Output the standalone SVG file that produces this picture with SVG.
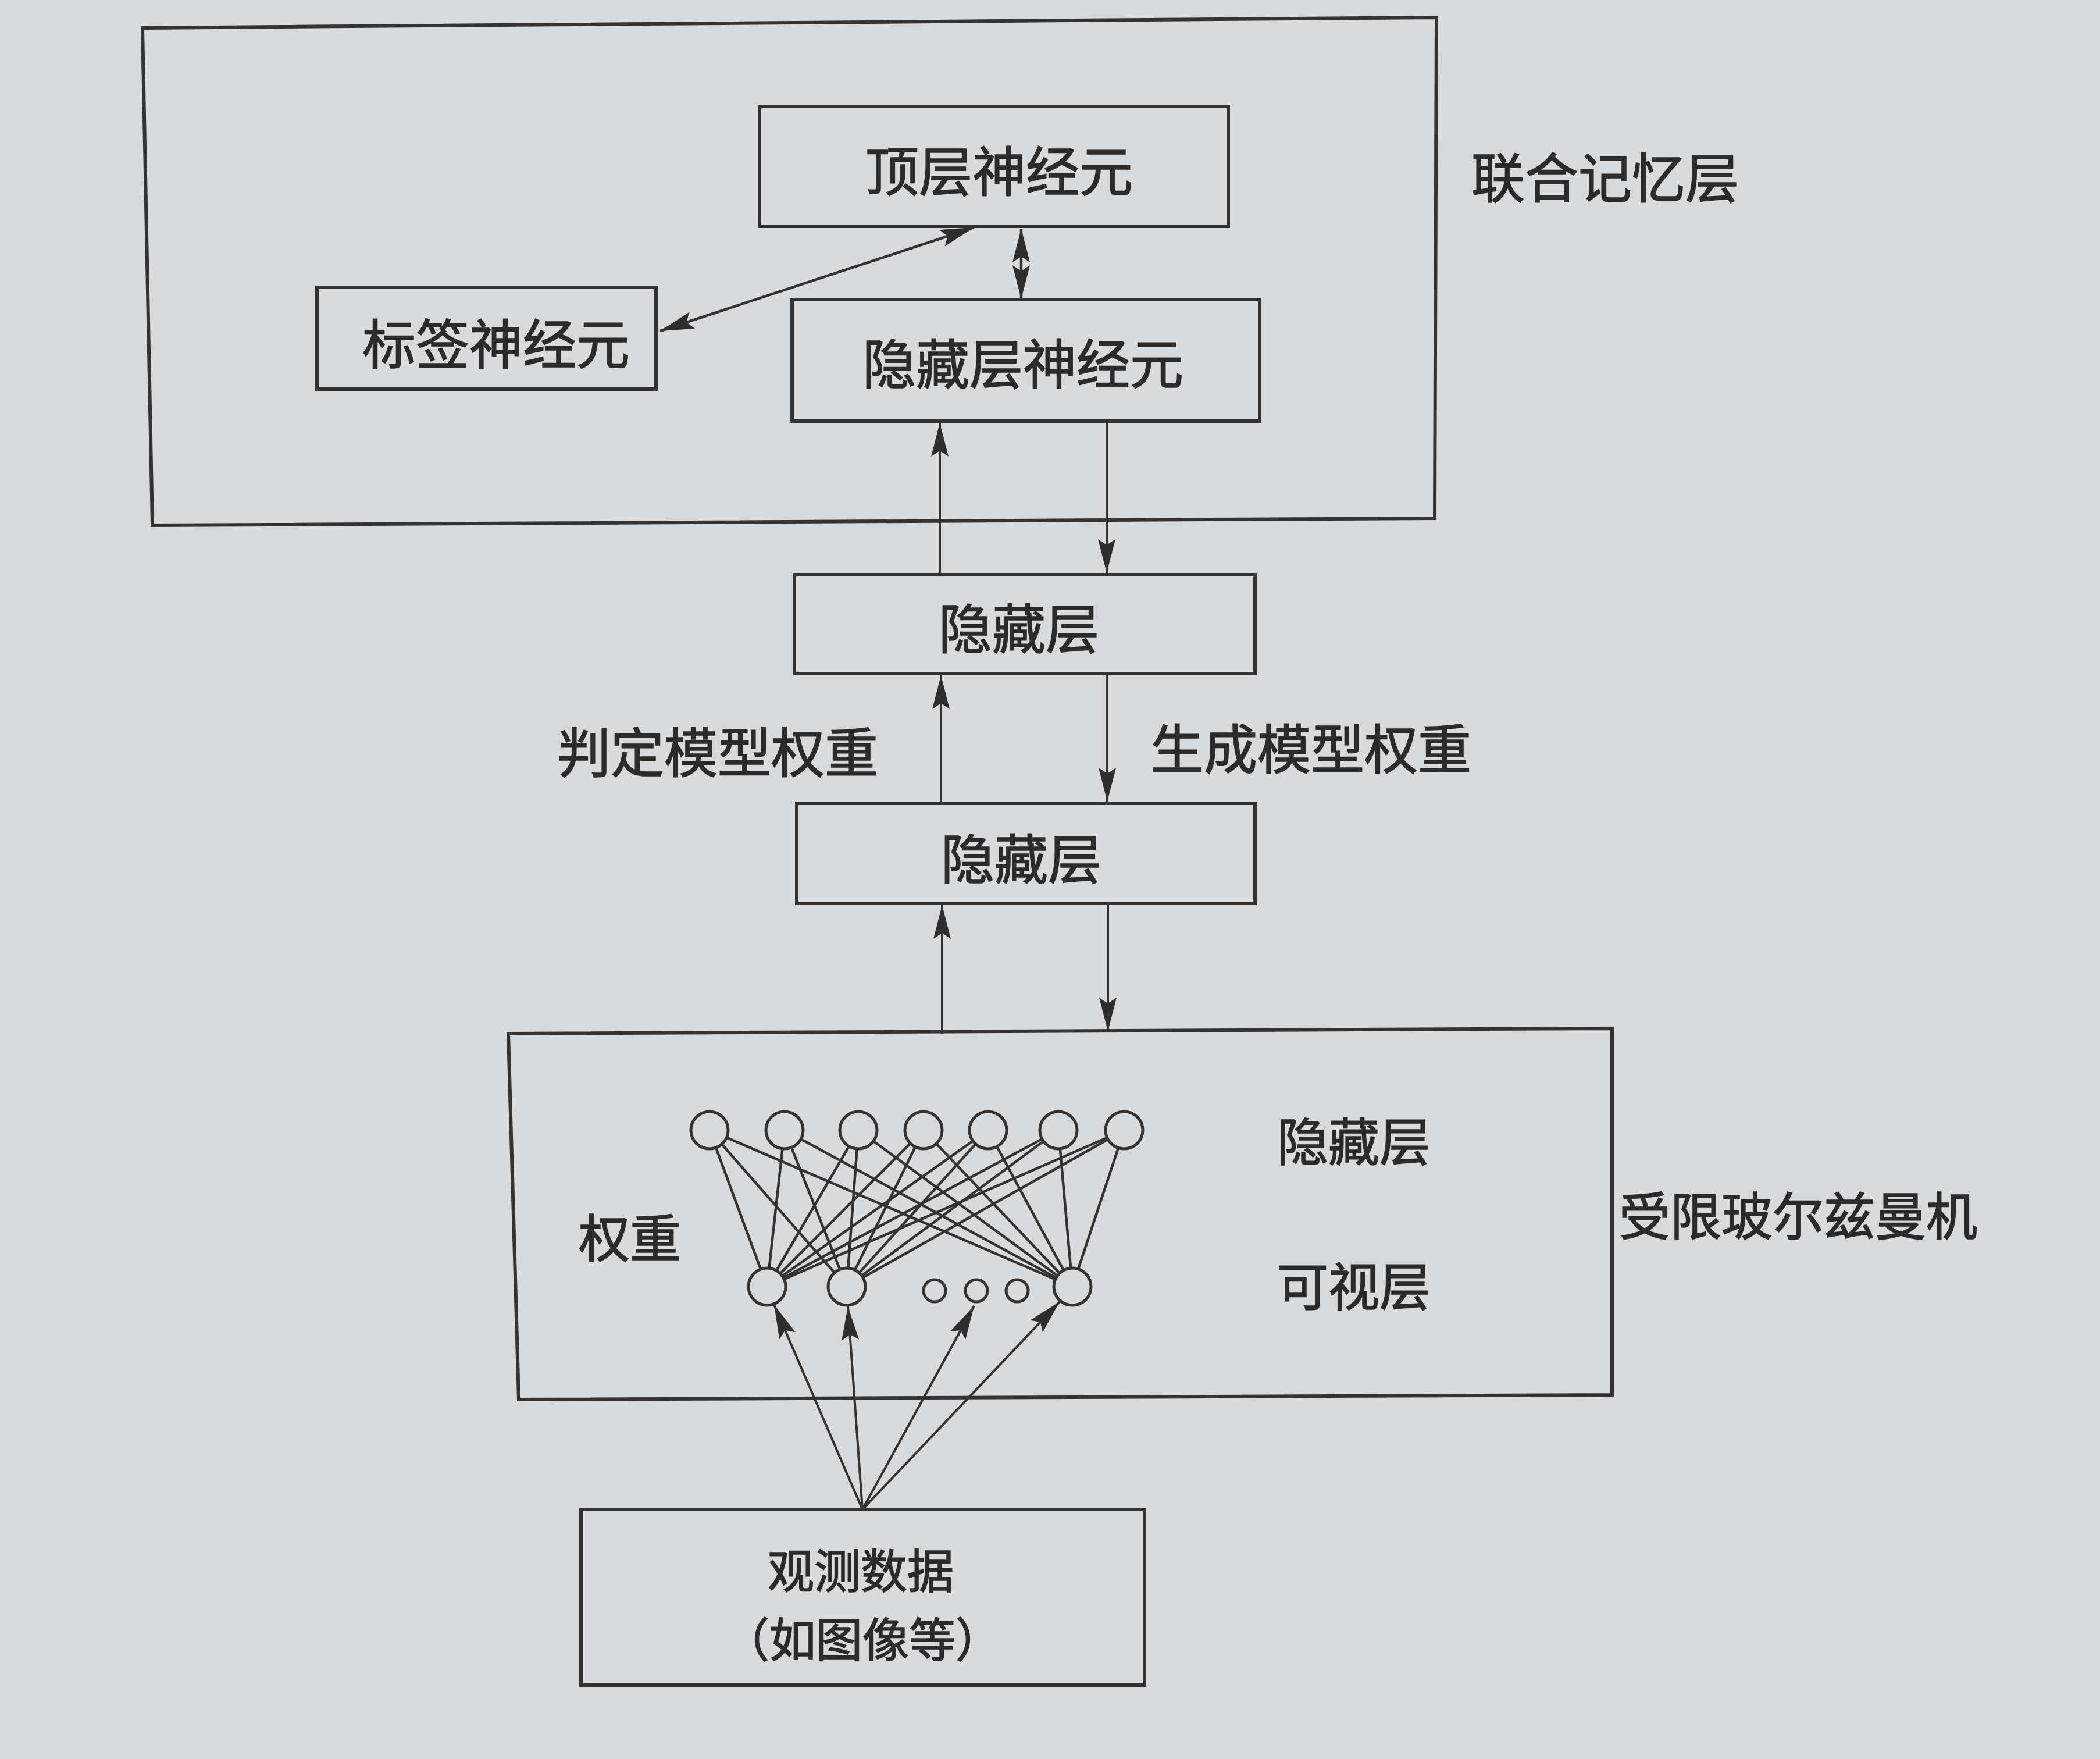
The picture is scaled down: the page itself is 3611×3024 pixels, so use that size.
<svg xmlns="http://www.w3.org/2000/svg" width="3611" height="3024" viewBox="0 0 3611 3024">
<style>
.bx{fill:none;stroke:#333;stroke-width:6}
.ar{fill:none;stroke:#333;stroke-width:4;marker-end:url(#ah)}
.da{fill:none;stroke:#333;stroke-width:4.5;marker-start:url(#ah);marker-end:url(#ah)}
.e{stroke:#333;stroke-width:4.5}
.c{fill:#d9dadc;stroke:#333;stroke-width:5}
.t{font-family:"Noto Sans CJK SC","Noto Sans",sans-serif;font-size:92px;fill:#2b2b2b;stroke:#2b2b2b;stroke-width:1.6;text-anchor:middle}
.ts{font-family:"Noto Sans CJK SC","Noto Sans",sans-serif;font-size:88px;fill:#2b2b2b;stroke:#2b2b2b;stroke-width:1.6;text-anchor:middle}
.to{font-family:"Noto Sans CJK SC","Noto Sans",sans-serif;font-size:80px;fill:#2b2b2b;stroke:#2b2b2b;stroke-width:1.6;text-anchor:middle}
</style>
<defs>
<marker id="ah" markerUnits="userSpaceOnUse" markerWidth="70" markerHeight="40" refX="60" refY="20" orient="auto-start-reverse" viewBox="0 0 70 40">
<path d="M60,20 L2,5 L12,20 L2,35 Z" fill="#2e2e2e"/>
</marker>
</defs>
<rect width="3611" height="3024" fill="#d9dadc"/>

<g id="assoc-memory">
<path class="bx" d="M245,48 L2470,30 L2467,891 L262,903 Z"/>
<text class="t" x="2760" y="340">联合记忆层</text>
</g>
<g id="top-neurons">
<rect class="bx" x="1306" y="183" width="806" height="206"/>
<text class="t" x="1718" y="329">顶层神经元</text>
</g>
<g id="label-neurons">
<rect class="bx" x="545" y="494" width="583" height="175"/>
<text class="t" x="853" y="626">标签神经元</text>
</g>
<g id="hidden-neurons">
<rect class="bx" x="1362" y="515" width="804" height="209"/>
<text class="t" x="1759" y="660">隐藏层神经元</text>
</g>
<g id="hidden-layer-1">
<rect class="bx" x="1366" y="988" width="792" height="170"/>
<text class="t" x="1752" y="1115">隐藏层</text>
</g>
<g id="hidden-layer-2">
<rect class="bx" x="1370" y="1381" width="788" height="172"/>
<text class="t" x="1756" y="1511">隐藏层</text>
</g>
<g id="labels">
<text class="t" x="1234" y="1328">判定模型权重</text>
<text class="t" x="2254" y="1322">生成模型权重</text>
</g>

<g id="rbm">
<path class="bx" d="M874,1777 L2772,1768 L2772,2398 L892,2406 Z"/>
<g id="rbm-weights">
<line class="e" x1="1220" y1="1943" x2="1319" y2="2212"/>
<line class="e" x1="1220" y1="1943" x2="1456" y2="2212"/>
<line class="e" x1="1220" y1="1943" x2="1844" y2="2212"/>
<line class="e" x1="1349" y1="1943" x2="1319" y2="2212"/>
<line class="e" x1="1349" y1="1943" x2="1456" y2="2212"/>
<line class="e" x1="1349" y1="1943" x2="1844" y2="2212"/>
<line class="e" x1="1476" y1="1943" x2="1319" y2="2212"/>
<line class="e" x1="1476" y1="1943" x2="1456" y2="2212"/>
<line class="e" x1="1476" y1="1943" x2="1844" y2="2212"/>
<line class="e" x1="1588" y1="1943" x2="1319" y2="2212"/>
<line class="e" x1="1588" y1="1943" x2="1456" y2="2212"/>
<line class="e" x1="1588" y1="1943" x2="1844" y2="2212"/>
<line class="e" x1="1699" y1="1943" x2="1319" y2="2212"/>
<line class="e" x1="1699" y1="1943" x2="1456" y2="2212"/>
<line class="e" x1="1699" y1="1943" x2="1844" y2="2212"/>
<line class="e" x1="1820" y1="1943" x2="1319" y2="2212"/>
<line class="e" x1="1820" y1="1943" x2="1456" y2="2212"/>
<line class="e" x1="1820" y1="1943" x2="1844" y2="2212"/>
<line class="e" x1="1933" y1="1943" x2="1319" y2="2212"/>
<line class="e" x1="1933" y1="1943" x2="1456" y2="2212"/>
<line class="e" x1="1933" y1="1943" x2="1844" y2="2212"/>
</g>
<g id="rbm-hidden-units">
<circle class="c" cx="1220" cy="1943" r="32"/>
<circle class="c" cx="1349" cy="1943" r="32"/>
<circle class="c" cx="1476" cy="1943" r="32"/>
<circle class="c" cx="1588" cy="1943" r="32"/>
<circle class="c" cx="1699" cy="1943" r="32"/>
<circle class="c" cx="1820" cy="1943" r="32"/>
<circle class="c" cx="1933" cy="1943" r="32"/>
</g>
<g id="rbm-visible-units">
<circle class="c" cx="1319" cy="2212" r="32"/>
<circle class="c" cx="1456" cy="2212" r="32"/>
<circle class="c" cx="1607" cy="2219" r="19"/>
<circle class="c" cx="1679" cy="2219" r="19"/>
<circle class="c" cx="1749" cy="2219" r="19"/>
<circle class="c" cx="1844" cy="2212" r="32"/>
</g>
<text class="ts" x="2328" y="1995">隐藏层</text>
<text class="ts" x="1083" y="2161">权重</text>
<text class="ts" x="2328" y="2244">可视层</text>
<text class="ts" x="3092" y="2123">受限玻尔兹曼机</text>
</g>

<g id="observed-data">
<rect class="bx" x="999" y="2595" width="969" height="302"/>
<text class="to" x="1480" y="2730">观测数据</text>
<text class="to" x="1483" y="2848">（如图像等）</text>
</g>

<g id="connectors">
<line class="da" x1="1135" y1="569" x2="1675" y2="391"/>
<line class="da" x1="1756" y1="393" x2="1756" y2="514"/>
<line class="ar" x1="1616" y1="988" x2="1616" y2="727"/>
<line class="ar" x1="1903" y1="727" x2="1903" y2="985"/>
<line class="ar" x1="1618" y1="1381" x2="1618" y2="1161"/>
<line class="ar" x1="1904" y1="1161" x2="1904" y2="1378"/>
<line class="ar" x1="1620" y1="1777" x2="1620" y2="1556"/>
<line class="ar" x1="1905" y1="1556" x2="1905" y2="1773"/>
<line class="ar" x1="1483" y1="2595" x2="1331" y2="2243"/>
<line class="ar" x1="1483" y1="2595" x2="1458" y2="2246"/>
<line class="ar" x1="1483" y1="2595" x2="1675" y2="2245"/>
<line class="ar" x1="1483" y1="2595" x2="1822" y2="2238"/>
</g>
</svg>
